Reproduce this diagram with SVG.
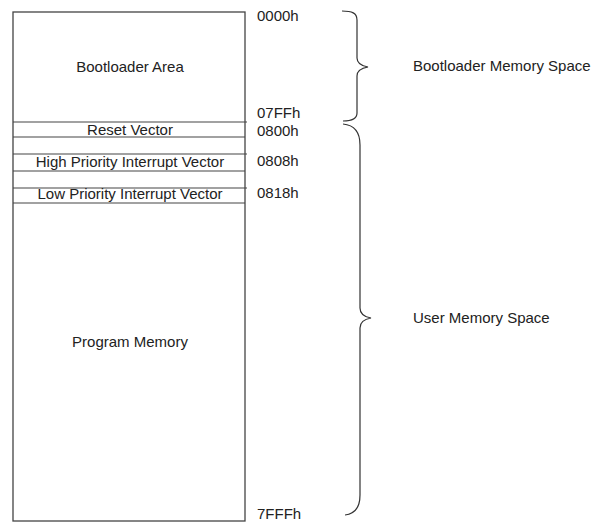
<svg xmlns="http://www.w3.org/2000/svg" width="595" height="523" viewBox="0 0 595 523">
<style>
text{font-family:"Liberation Sans",Arial,sans-serif;font-size:15px;fill:#222}
.c{text-anchor:middle}
.box{fill:#fff;stroke:#444;stroke-width:1.3}
.ln{stroke:#444;stroke-width:1.2;fill:none}
.br{stroke:#333;stroke-width:1.2;fill:none}
</style>
<rect width="595" height="523" fill="#fff"/>
<g id="memory">
<rect class="box" x="13" y="12" width="232" height="509"/>
</g>
<g id="bootloader-area"><text class="c" x="130" y="72">Bootloader Area</text></g>
<g id="reset-vector">
<line class="ln" x1="13" y1="122" x2="247" y2="122"/>
<line class="ln" x1="13" y1="137" x2="245" y2="137"/>
<text class="c" x="130" y="135">Reset Vector</text>
</g>
<g id="high-priority">
<line class="ln" x1="13" y1="154" x2="247" y2="154"/>
<line class="ln" x1="13" y1="171" x2="245" y2="171"/>
<text class="c" x="130" y="167">High Priority Interrupt Vector</text>
</g>
<g id="low-priority">
<line class="ln" x1="13" y1="188" x2="247" y2="188"/>
<line class="ln" x1="13" y1="203" x2="245" y2="203"/>
<text class="c" x="130" y="199">Low Priority Interrupt Vector</text>
</g>
<g id="program-memory"><text class="c" x="130" y="347">Program Memory</text></g>
<g id="addresses">
<text x="257" y="21">0000h</text>
<text x="257" y="118">07FFh</text>
<text x="257" y="135.5">0800h</text>
<text x="257" y="166">0808h</text>
<text x="257" y="198">0818h</text>
<text x="257" y="519">7FFFh</text>
</g>
<g id="connectors">
<path class="br" d="M342,11 C352,11 357,13 357,20 L357,58 C357,64 362,66 368,67 C362,68 357,70 357,76 L357,113 C357,119 352,121 343,121"/>
<path class="br" d="M343,124 C354,125 360,132 360,145 L360,308 C360,314 365,317 371,318 C365,319 360,322 360,328 L360,495 C360,508 354,514 345,515"/>
</g>
<g id="bootloader-space"><text x="413" y="71">Bootloader Memory Space</text></g>
<g id="user-space"><text x="413" y="323">User Memory Space</text></g>
</svg>
